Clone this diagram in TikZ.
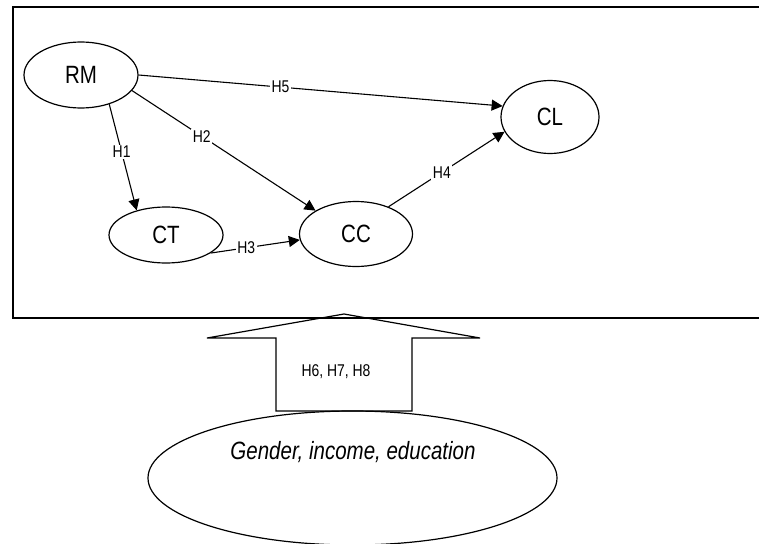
\documentclass[tikz,border=0pt]{standalone}
\usepackage{fontspec}
\setmainfont[FakeStretch=0.82]{Liberation Sans}
\usetikzlibrary{shapes.geometric,arrows.meta}
\tikzset{
	construct/.style={draw, ellipse, line width=1.2pt, inner sep=0pt, font=\fontsize{25}{30}\selectfont},
	hyp/.style={-{Triangle[length=11pt,width=11pt]}, line width=1.1pt},
	hlabel/.style={fill=white, inner sep=1.5pt, font=\fontsize{17}{20}\selectfont}
}
\begin{document}
\begin{tikzpicture}[x=1pt,y=-1pt]
	\useasboundingbox (0,0) rectangle (759,543);
	\clip (0,0) rectangle (759,543);
	\draw[line width=1.6pt] (13,7) rectangle (765,318);
	% constructs
	\node[construct, minimum width=114pt, minimum height=66pt] (rm) at (81,75) {RM};
	\node[construct, minimum width=114pt, minimum height=56pt] (ct) at (166,235) {CT};
	\node[construct, minimum width=113pt, minimum height=65pt] (cc) at (356,234) {CC};
	\node[construct, minimum width=98pt, minimum height=73pt] (cl) at (550,117) {CL};
	% hypotheses
	\draw[hyp] (rm.east) -- node[hlabel, pos=0.39] {H5} (cl.167);
	\draw[hyp] (rm.-46) -- node[hlabel, pos=0.45] {H1} (ct.140);
	\draw[hyp] (rm.-17) -- node[hlabel, pos=0.38] {H2} (cc.150);
	\draw[hyp] (ct.-22) -- node[hlabel, pos=0.4] {H3} (cc.186);
	\draw[hyp] (cc.40) -- node[hlabel, pos=0.46] {H4} (cl.198);
	% moderators
	\draw[line width=1.2pt] (276,411) -- (276,338) -- (207,338) -- (344,314) -- (480,338) -- (412,338) -- (412,411) -- cycle;
	\node[font=\fontsize{17}{20}\selectfont] (hmod) at (336,372) {H6, H7, H8};
	\node[construct, minimum width=409pt, minimum height=134pt] (demo) at (352.5,478) {};
	\node[font=\itshape\fontsize{25}{30}\selectfont] (demotext) at (353,452) {Gender, income, education};
\end{tikzpicture}
\end{document}
